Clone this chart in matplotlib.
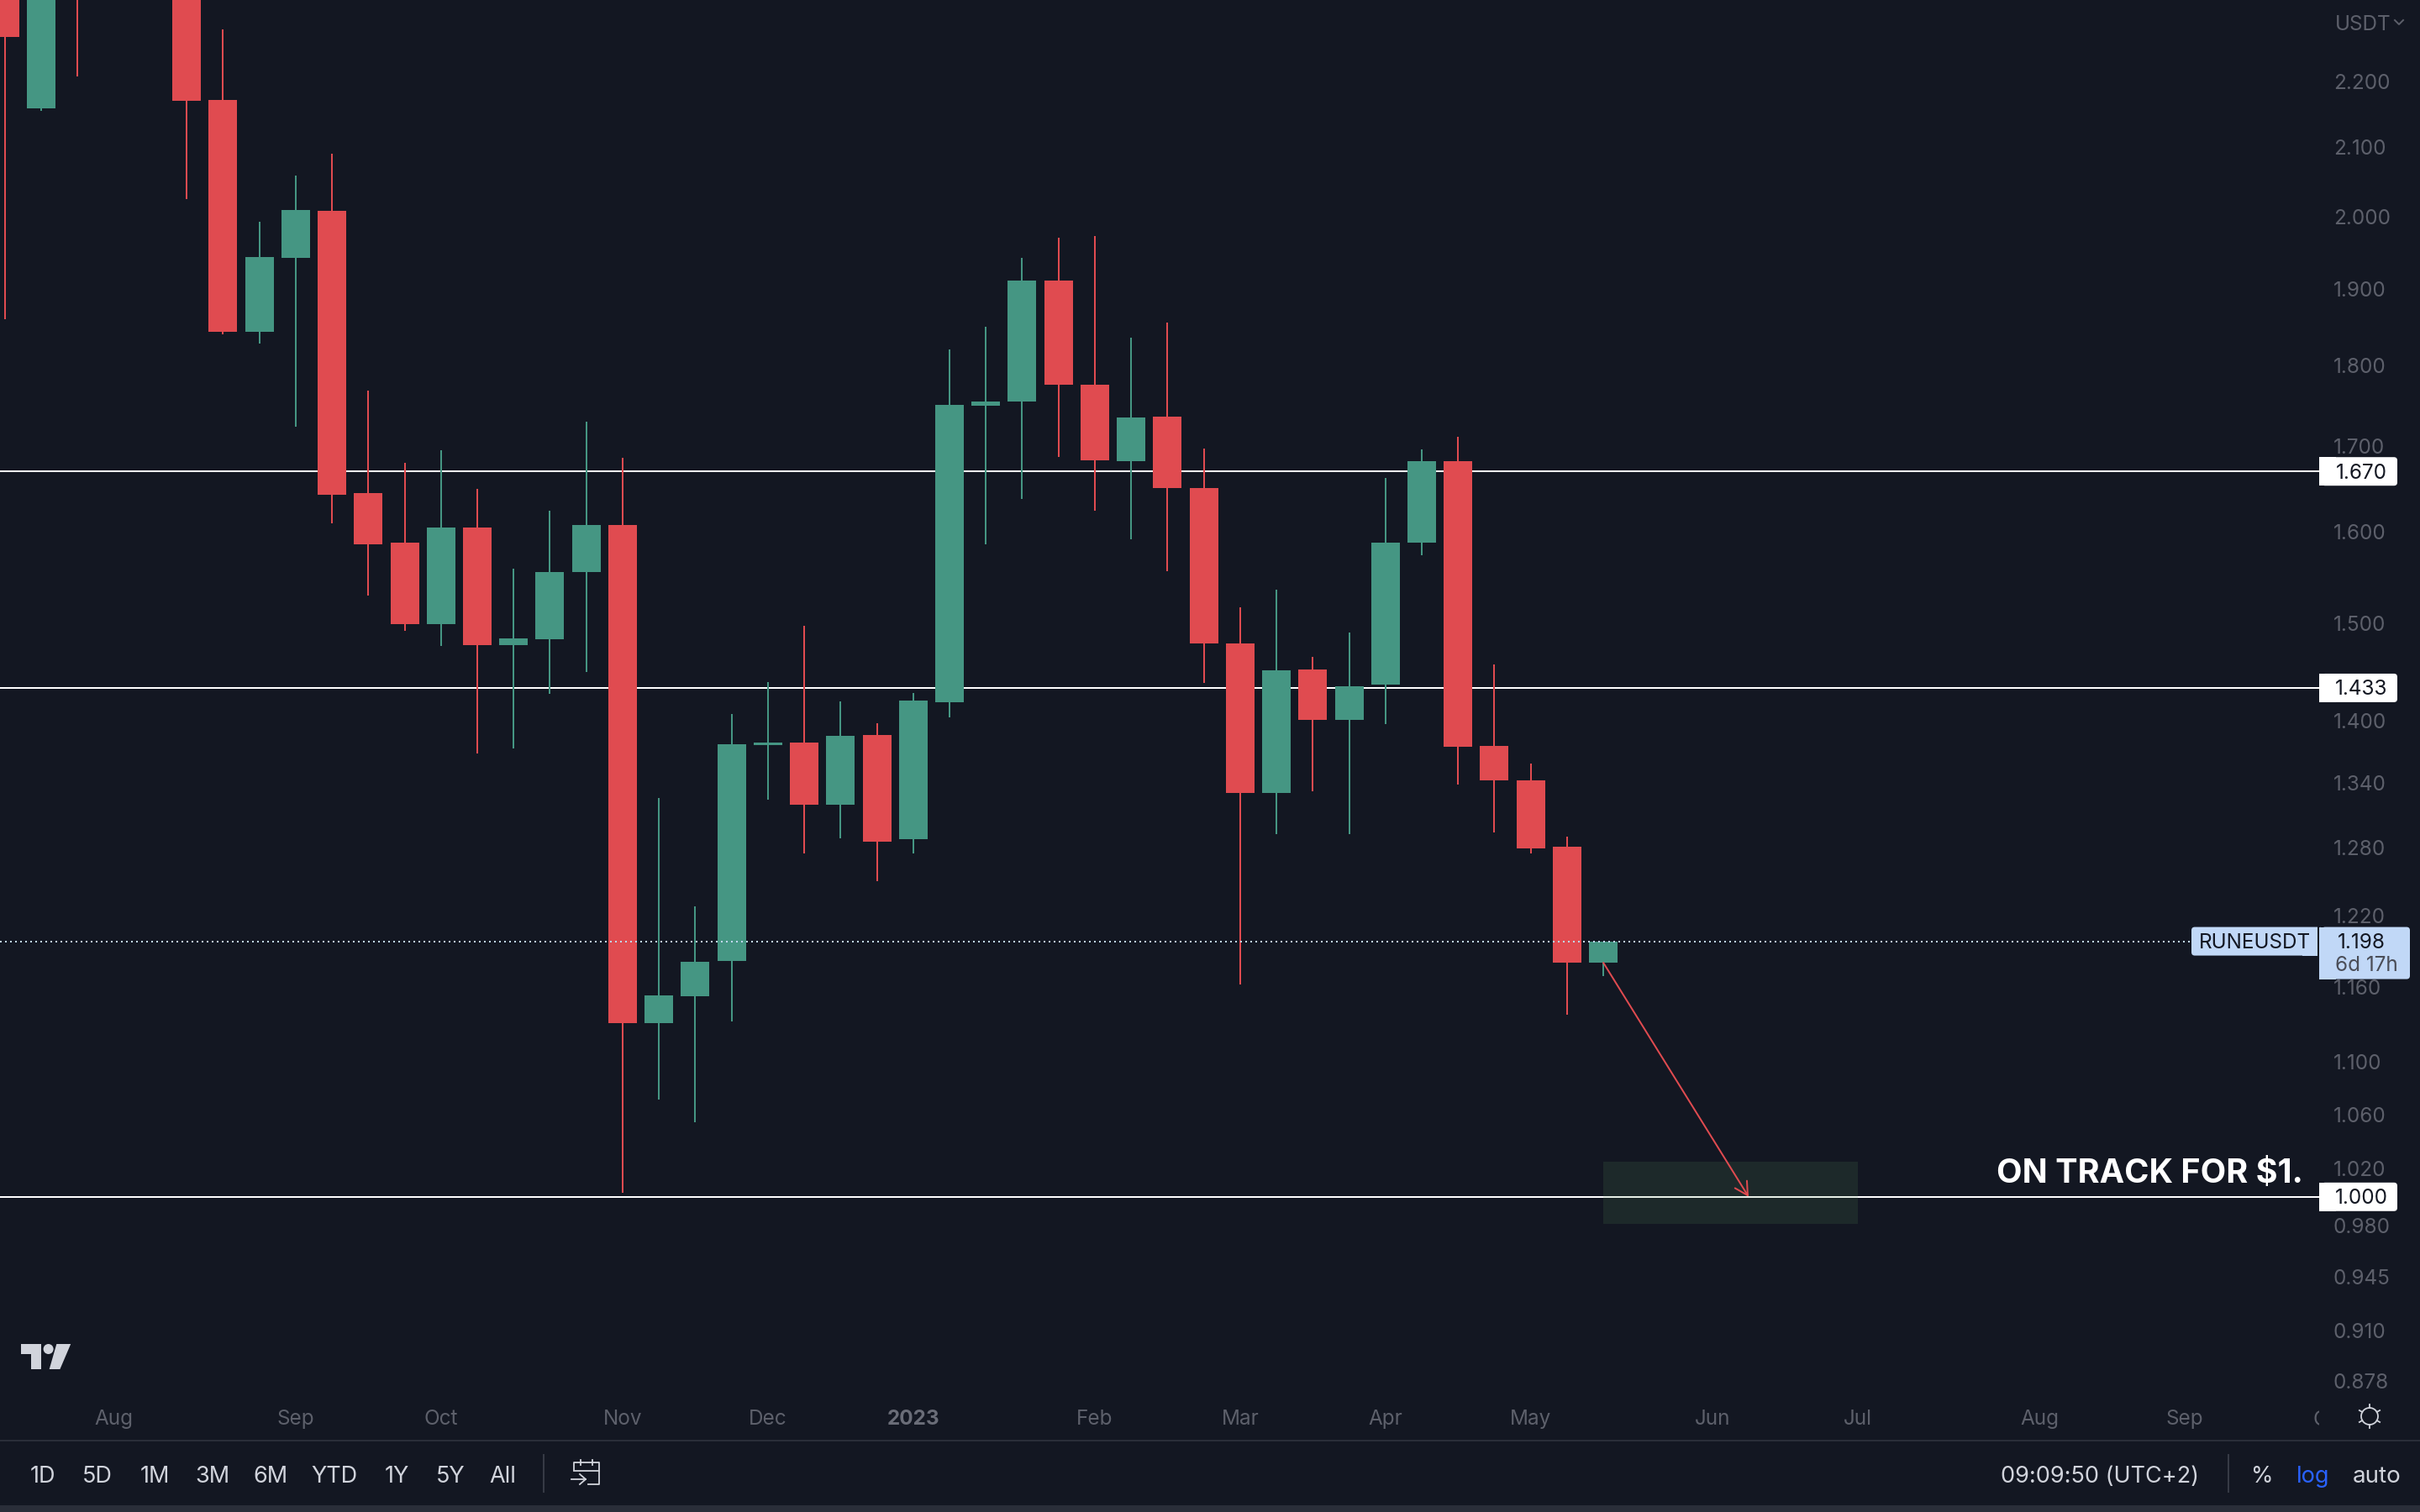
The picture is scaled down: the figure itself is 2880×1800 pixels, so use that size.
import matplotlib
matplotlib.use('Agg')
import matplotlib.pyplot as plt
import matplotlib.dates as mdates
import pandas as pd
from matplotlib.patches import Rectangle, FancyBboxPatch, Polygon, Circle
from matplotlib.ticker import FixedLocator, FixedFormatter, NullLocator
import numpy as np

plt.rcParams['font.family'] = ['Inter', 'DejaVu Sans']

# RUNEUSDT, weekly candles (first five run partly above the visible range)
first_week = '2022-07-11'
opens = [2.45, 2.158, 2.80, 2.65, 2.70, 2.60, 2.1713, 1.8431, 1.9422, 2.0078,
         1.6447, 1.5879, 1.4992, 1.6049, 1.4769, 1.4834, 1.5555, 1.6080, 1.1305, 1.1524,
         1.1816, 1.3762, 1.3788, 1.3196, 1.3859, 1.2875, 1.4185, 1.7495, 1.7544, 1.9114,
         1.7756, 1.6822, 1.7360, 1.6505, 1.4788, 1.3307, 1.4520, 1.4010, 1.4362, 1.5878,
         1.6822, 1.3753, 1.3424, 1.2808, 1.1800]
closes = [2.270, 2.52, 2.65, 2.70, 2.60, 2.1702, 1.8431, 1.9432, 2.0092, 1.6427,
          1.5859, 1.4992, 1.6049, 1.4769, 1.4841, 1.5555, 1.6080, 1.1305, 1.1530, 1.1806,
          1.3769, 1.3788, 1.3196, 1.3851, 1.2855, 1.4203, 1.7503, 1.7544, 1.9114, 1.7756,
          1.6830, 1.7348, 1.6505, 1.4788, 1.3307, 1.4508, 1.4010, 1.4346, 1.5878, 1.6822,
          1.3745, 1.3424, 1.2795, 1.1802, 1.1980]
highs = [2.60, 2.60, 2.85, 2.78, 2.75, 2.70, 2.2824, 1.9923, 2.0584, 2.0906,
         1.7683, 1.6801, 1.6953, 1.6495, 1.5589, 1.6241, 1.7297, 1.6862, 1.3257, 1.2279,
         1.4069, 1.4391, 1.4975, 1.4196, 1.3976, 1.4279, 1.8204, 1.8496, 1.9422, 1.9703,
         1.9726, 1.8358, 1.8553, 1.6972, 1.5171, 1.5362, 1.4647, 1.4900, 1.6622, 1.6960,
         1.7115, 1.4572, 1.3585, 1.2900, 1.1980]
lows = [1.860, 2.155, 2.208, 2.45, 2.40, 2.0244, 1.8399, 1.8280, 1.7234, 1.6100,
        1.5297, 1.4920, 1.4762, 1.3680, 1.3730, 1.4270, 1.4492, 1.0030, 1.0711, 1.0540,
        1.1321, 1.3242, 1.2746, 1.2886, 1.2503, 1.2746, 1.4033, 1.5859, 1.6378, 1.6869,
        1.6244, 1.5919, 1.5564, 1.4381, 1.1620, 1.2923, 1.3321, 1.2923, 1.3968, 1.5740,
        1.3383, 1.2938, 1.2749, 1.1374, 1.1689]

levels = [1.670, 1.433, 1.000]
last_price = 1.198
zone_top = 1.0251
zone_bottom = 0.9811
arrow_start = ('2023-05-15', 1.180)
arrow_end = ('2023-06-12', 1.000)

price_ticks = [2.2, 2.1, 2.0, 1.9, 1.8, 1.7, 1.6, 1.5, 1.4, 1.34, 1.28, 1.22, 1.16,
               1.1, 1.06, 1.02, 0.98, 0.945, 0.91, 0.878]
month_dates = ['2022-08-01', '2022-09-05', '2022-10-03', '2022-11-07', '2022-12-05',
               '2023-01-02', '2023-02-06', '2023-03-06', '2023-04-03', '2023-05-01',
               '2023-06-05', '2023-07-03', '2023-08-07', '2023-09-04']
month_labels = ['Aug', 'Sep', 'Oct', 'Nov', 'Dec', '2023', 'Feb', 'Mar', 'Apr', 'May',
                'Jun', 'Jul', 'Aug', 'Sep']
ranges = ['1D', '5D', '1M', '3M', '6M', 'YTD', '1Y', '5Y', 'All']
range_x = [51, 116, 184, 253, 322, 398, 472, 536, 598]

BG = '#131722'
RED = '#e04b50'
GREEN = '#459683'
GREY = '#5d606b'
LIGHT = '#d1d4dc'
BLUE_BOX = '#c1d8f7'
LABEL_SIZE = 17.5

W, H = 2880, 1800
PANE_W, PANE_H = 2760, 1662
PX_PER_DAY = 43.23 / 7


def dnum(d):
    return mdates.date2num(pd.to_datetime(d))


fig = plt.figure(figsize=(W / 100, H / 100), dpi=100, facecolor=BG)
ax = fig.add_axes([0, (H - PANE_H) / H, PANE_W / W, PANE_H / H], facecolor=BG)

weeks = dnum(pd.date_range(first_week, periods=len(opens), freq='7D'))
o, c, h, l = map(np.array, (opens, closes, highs, lows))
up = c >= o
colors = np.where(up, GREEN, RED)

ax.set_yscale('log')
for lv in levels:
    ax.axhline(lv, color='white', lw=1.44, zorder=1)
ax.vlines(weeks, l, h, colors=colors, lw=1.44, zorder=2, antialiased=False)
ax.bar(weeks, np.abs(c - o), bottom=np.minimum(o, c), width=34 / PX_PER_DAY,
       color=colors, linewidth=0, zorder=3)
ax.axhline(last_price, xmax=2608 / PANE_W, color=BLUE_BOX, lw=1.44,
           linestyle=(0, (1, 2)), dash_capstyle='butt', zorder=4)

# target zone and arrow
zone_x = dnum(['2023-05-15', '2023-07-03'])
ax.add_patch(Rectangle((zone_x[0], zone_bottom), zone_x[1] - zone_x[0], zone_top - zone_bottom,
                       facecolor='#5a915a', alpha=0.15, linewidth=0, zorder=5))
ax.annotate('', xy=(dnum(arrow_end[0]), arrow_end[1]),
            xytext=(dnum(arrow_start[0]), arrow_start[1]),
            arrowprops=dict(arrowstyle='->,head_length=1.1,head_width=0.6', color=RED, lw=1.44,
                            shrinkA=0, shrinkB=0, mutation_scale=10), zorder=6)

ax.set_xlim(weeks[0] - 6 / PX_PER_DAY, weeks[0] + (PANE_W - 6) / PX_PER_DAY)
ax.set_ylim(np.exp(-(PANE_H - 1424.8) / 1684), np.exp(1424.8 / 1684))

ax.yaxis.tick_right()
ax.yaxis.set_major_locator(FixedLocator(price_ticks))
ax.yaxis.set_major_formatter(FixedFormatter(['%.3f' % p for p in price_ticks]))
ax.yaxis.set_minor_locator(NullLocator())
ax.tick_params(axis='y', which='both', length=0, pad=12, labelsize=LABEL_SIZE, labelcolor=GREY)

ax.set_xticks(dnum(month_dates))
ax.set_xticklabels(month_labels)
ax.tick_params(axis='x', length=0, pad=11.5, labelsize=LABEL_SIZE, labelcolor=GREY)
for t, name in zip(ax.get_xticklabels(), month_labels):
    if name == '2023':
        t.set_fontweight('bold')
        t.set_color('#6a6d78')
for s in ax.spines.values():
    s.set_visible(False)

# overlay in figure pixels for the price labels and the toolbar
ovr = fig.add_axes([0, 0, 1, 1], facecolor='none', zorder=10)
ovr.set_xlim(0, W)
ovr.set_ylim(H, 0)
ovr.axis('off')


def ypx(price):
    return H - ax.transData.transform((weeks[0], price))[1]


def price_box(x0, x1, y0, y1, color):
    ovr.add_patch(FancyBboxPatch((x0 + 6, y0 + 3), x1 - x0 - 9, y1 - y0 - 6,
                                 boxstyle='round,pad=3,rounding_size=4',
                                 facecolor=color, linewidth=0))
    ovr.add_patch(Rectangle((x0, y0), 20, y1 - y0, facecolor=color, linewidth=0))


for lv in levels:
    y = ypx(lv)
    price_box(2760, 2853, y - 17, y + 17, 'white')
    ovr.text(2810, y - 0.5, '%.3f' % lv, color='#131722', fontsize=LABEL_SIZE, ha='center', va='center_baseline')

# current price tag
y = ypx(last_price)
ovr.add_patch(FancyBboxPatch((2611, y - 14), 150, 28, boxstyle='round,pad=3,rounding_size=4',
                             facecolor=BLUE_BOX, linewidth=0))
ovr.add_patch(Rectangle((2740, y - 17), 18, 34, facecolor=BLUE_BOX, linewidth=0))
ovr.add_patch(Rectangle((2758, y - 20), 3, 46, facecolor=BG, linewidth=0))
price_box(2760, 2868, y - 17, y + 45, BLUE_BOX)
ovr.text(2683, y - 1, 'RUNEUSDT', color='#131722', fontsize=LABEL_SIZE, ha='center', va='center_baseline')
ovr.text(2810, y - 1, '%.3f' % last_price, color='#131722', fontsize=LABEL_SIZE, ha='center', va='center_baseline')
ovr.text(2816, y + 26, '6d 17h', color='#4a4d57', fontsize=LABEL_SIZE, ha='center', va='center_baseline')

ovr.text(2741, 1393, 'ON TRACK FOR $1.', color='white', fontsize=28.5, fontweight='bold',
         ha='right', va='center_baseline')

ovr.text(2812, 27, 'USDT', color=GREY, fontsize=LABEL_SIZE, ha='center', va='center_baseline')
ovr.plot([2850, 2855, 2860], [24, 29, 24], color=GREY, lw=1.4)

# month label cut off by the price scale
oct_x = ax.transData.transform((dnum('2023-10-02'), 1))[0]
oct_t = ovr.text(oct_x, 1688, 'Oct', color=GREY, fontsize=LABEL_SIZE, ha='center', va='center_baseline')
oct_t.set_clip_on(True)
oct_t.set_clip_path(Rectangle((0, 0), 2760, H, transform=ovr.transData))

# TradingView mark
ovr.add_patch(Polygon([(24.5, 1600), (48.5, 1600), (48.5, 1630), (36.7, 1630), (36.7, 1611.7),
                       (24.5, 1611.7)], facecolor=LIGHT, linewidth=0))
ovr.add_patch(Circle((57.6, 1606), 6, facecolor=LIGHT, linewidth=0))
ovr.add_patch(Polygon([(67.3, 1600), (84.2, 1600), (71.4, 1630), (58.7, 1630)],
                      facecolor=LIGHT, linewidth=0))

# bottom toolbar
ovr.plot([0, W], [1715, 1715], color='#2a2e39', lw=1.44)
ovr.add_patch(Rectangle((0, 1792), W, 8, facecolor='#2a2e39', linewidth=0))
for name, x in zip(ranges, range_x):
    ovr.text(x, 1755, name, color=LIGHT, fontsize=19.5, ha='center', va='center_baseline')
for x in (647, 2652):
    ovr.plot([x, x], [1732, 1776], color='#363a45', lw=1.44)

ovr.text(2499, 1755, '09:09:50 (UTC+2)', color=LIGHT, fontsize=19.5, ha='center', va='center_baseline')
ovr.text(2692, 1755, '%', color=LIGHT, fontsize=19.5, ha='center', va='center_baseline')
ovr.text(2753, 1755, 'log', color='#2962ff', fontsize=19.5, ha='center', va='center_baseline')
ovr.text(2829, 1755, 'auto', color=LIGHT, fontsize=20, ha='center', va='center_baseline')

# calendar icon
ovr.plot([683, 683, 713, 713, 700], [1750, 1741, 1741, 1767, 1767], color=LIGHT, lw=1.3)
ovr.plot([683, 713], [1751, 1751], color=LIGHT, lw=1.3)
ovr.plot([691, 691], [1738, 1744], color=LIGHT, lw=1.3)
ovr.plot([705, 705], [1738, 1744], color=LIGHT, lw=1.3)
ovr.plot([680, 697], [1761, 1761], color=LIGHT, lw=1.3)
ovr.plot([690, 697, 690], [1755, 1761, 1767], color=LIGHT, lw=1.3)

# settings icon
ovr.add_patch(Circle((2820, 1686), 10, facecolor='none', edgecolor=LIGHT, lw=1.3))
for a in np.deg2rad(np.arange(0, 360, 60) + 30):
    ovr.plot([2820 + 10 * np.cos(a), 2820 + 14 * np.cos(a)],
             [1686 + 10 * np.sin(a), 1686 + 14 * np.sin(a)], color=LIGHT, lw=1.3)

fig.savefig('out.png', dpi=100, facecolor=BG)
